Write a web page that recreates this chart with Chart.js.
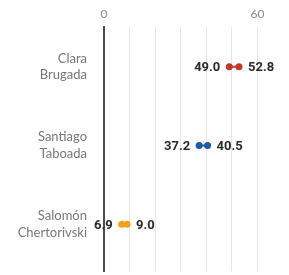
<!DOCTYPE html>
<html>
<head>
<meta charset="utf-8">
<script src="https://cdn.jsdelivr.net/npm/chart.js@4/dist/chart.umd.min.js"></script>
<style>
  html, body { margin: 0; padding: 0; background: #fff; }
  #wrap { width: 289px; height: 275px; }
</style>
</head>
<body>
<div id="wrap"><canvas id="dumbbell" width="289" height="275"></canvas></div>
<script>
// Datos
const candidates = [['Clara', 'Brugada'], ['Santiago', 'Taboada'], ['Salomón', 'Chertorivski']];
const lowValues = [49.0, 37.2, 6.9];
const highValues = [52.8, 40.5, 9.0];
const colors = ['#c4392a', '#1f5aa6', '#f5a01c'];
const xTickLabels = [0, 60];

// Un dataset por candidato: dos puntos unidos por una linea
const datasets = candidates.map(function(name, i) {
    return {
        label: name.join(' '),
        data: [{ x: lowValues[i], y: i }, { x: highValues[i], y: i }],
        showLine: true,
        borderColor: colors[i],
        backgroundColor: colors[i],
        borderWidth: 2,
        pointRadius: 3.5,
        pointBorderWidth: 0,
        pointHoverRadius: 3.5
    };
});

// Etiquetas de valores a los lados
const valueLabels = {
    id: 'valueLabels',
    afterDatasetsDraw: function(chart) {
        const ctx = chart.ctx;
        ctx.save();
        ctx.font = 'bold 13px Roboto';
        ctx.fillStyle = '#2b2b2b';
        ctx.textBaseline = 'middle';
        chart.data.datasets.forEach(function(ds, i) {
            const pts = chart.getDatasetMeta(i).data;
            ctx.textAlign = 'right';
            ctx.fillText(lowValues[i].toFixed(1), pts[0].x - 9, pts[0].y + 1);
            ctx.textAlign = 'left';
            ctx.fillText(highValues[i].toFixed(1), pts[1].x + 9, pts[1].y + 1);
        });
        ctx.restore();
    }
};

new Chart(document.getElementById('dumbbell'), {
    type: 'scatter',
    data: { datasets: datasets },
    plugins: [valueLabels],
    options: {
        responsive: false,
        animation: false,
        layout: { padding: { top: 1, right: 2, bottom: 0, left: 0 } },
        plugins: {
            legend: { display: false },
            tooltip: { enabled: false }
        },
        scales: {
            x: {
                position: 'top',
                min: 0,
                max: 70,
                border: { display: false },
                grid: {
                    drawTicks: false,
                    lineWidth: 1,
                    color: function(c) {
                        return c.tick && c.tick.value >= 70 ? 'rgba(0,0,0,0)' : '#e6e6e6';
                    }
                },
                ticks: {
                    stepSize: 10,
                    padding: 6,
                    color: '#8a8a8a',
                    font: { family: 'Lato', size: 12 },
                    callback: function(v) {
                        return xTickLabels.indexOf(v) >= 0 ? String(v) : '';
                    }
                }
            },
            y: {
                reverse: true,
                min: -0.5,
                max: 2.6,
                afterBuildTicks: function(scale) {
                    scale.ticks = candidates.map(function(n, i) { return { value: i }; });
                },
                afterFit: function(scale) {
                    scale.width = 104;
                    // sin relleno extra por las etiquetas de dos lineas
                    scale.paddingTop = 0;
                    scale.paddingBottom = 0;
                },
                grid: { display: false },
                border: { display: true, color: '#4d4d4d', width: 2 },
                ticks: {
                    padding: 9,
                    color: '#777',
                    font: { family: 'Lato', size: 13, lineHeight: 1.3 },
                    callback: function(v) {
                        return candidates[v] || '';
                    }
                }
            }
        }
    }
});
</script>
</body>
</html>
